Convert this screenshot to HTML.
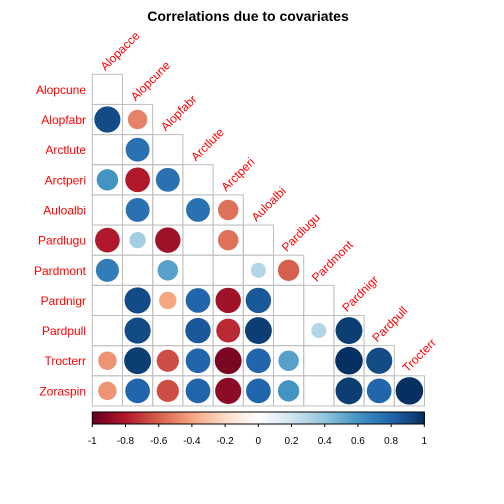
<!DOCTYPE html>
<html><head><meta charset="utf-8"><style>
body{margin:0;background:#fff;}
svg{display:block;font-family:"Liberation Sans",sans-serif;}
</style></head><body>
<svg id="chart" width="504" height="504">
<text x="248" y="21" text-anchor="middle" font-size="14" font-weight="bold">Correlations due to covariates</text>
<g id="grid"></g><g id="marks"></g><g id="labels"></g><g id="legend"></g>
</svg>
<script>
const colLabels=["Alopacce","Alopcune","Alopfabr","Arctlute","Arctperi","Auloalbi","Pardlugu","Pardmont","Pardnigr","Pardpull","Trocterr"];
const rowLabels=["Alopcune","Alopfabr","Arctlute","Arctperi","Auloalbi","Pardlugu","Pardmont","Pardnigr","Pardpull","Trocterr","Zoraspin"];
const corrValues=[
[null],
[0.9,-0.5],
[null,0.75],
[0.6,-0.8,0.75],
[null,0.75,null,0.75,-0.55],
[-0.8,0.35,-0.85,null,-0.55,null],
[0.7,null,0.55,null,null,0.3,-0.6],
[null,0.9,-0.4,0.8,-0.85,0.85,null,null],
[null,0.9,null,0.85,-0.75,0.95,null,0.3,0.95],
[-0.45,0.95,-0.65,0.8,-0.95,0.8,0.55,null,1.0,0.9],
[-0.45,0.8,-0.65,0.8,-0.9,0.8,0.6,null,0.95,0.8,1.0]
];
const legendTicks=[-1,-0.8,-0.6,-0.4,-0.2,0,0.2,0.4,0.6,0.8,1];
const NS="http://www.w3.org/2000/svg";
const X0=92.3,Y0=74.3,CW=30.2,CH=30.15;
const xPos=j=>X0+j*CW, yPos=i=>Y0+i*CH;
const pal=["#67001F","#B2182B","#D6604D","#F4A582","#FDDBC7","#FFFFFF","#D1E5F0","#92C5DE","#4393C3","#2166AC","#053061"];
function hx(h){return[1,3,5].map(k=>parseInt(h.substr(k,2),16));}
function col(v){let t=(v+1)/2*10;let k=Math.min(9,Math.floor(t));let f=t-k;let a=hx(pal[k]),b=hx(pal[k+1]);
return "rgb("+a.map((c,i)=>Math.round(c+(b[i]-c)*f)).join(",")+")";}
function mk(tag,attrs,parent){const e=document.createElementNS(NS,tag);for(const k in attrs)e.setAttribute(k,attrs[k]);parent.appendChild(e);return e;}
const grid=document.getElementById('grid'),marks=document.getElementById('marks'),labels=document.getElementById('labels'),legend=document.getElementById('legend');
for(let i=0;i<rowLabels.length;i++){
  for(let j=0;j<=i;j++){
    const r=mk('rect',{x:xPos(j),y:yPos(i),width:CW,height:CH,fill:'none',stroke:'#bebebe','stroke-width':1},grid);
    
    
    const v=corrValues[i][j];
    if(v!==null&&v!==undefined){
      const c=mk('circle',{cx:xPos(j)+CW/2,cy:yPos(i)+CH/2,r:13.8*Math.sqrt(Math.abs(v)),fill:col(v)},marks);
      
      
    }
  }
  const t=mk('text',{x:86,y:yPos(i)+CH/2+4.5,'text-anchor':'end','font-size':12,fill:'#ff0000'},labels);
  t.textContent=rowLabels[i];
  
  
}
for(let j=0;j<colLabels.length;j++){
  const x=xPos(j)+CW/2-2,y=yPos(j)-3;
  const t=mk('text',{x:x,y:y,'font-size':12,fill:'#ff0000',transform:'rotate(-45 '+x+' '+y+')'},labels);
  t.textContent=colLabels[j];
  
  
}
const LX0=92.3,LX1=424.3,LY=412,LH=12;
const lx=v=>LX0+(v+1)/2*(LX1-LX0);
for(let k=0;k<200;k++){
  const v=-1+k/100;
  mk('rect',{x:lx(v),y:LY,width:(LX1-LX0)/200+0.6,height:LH,fill:col(v+0.005)},legend);
}
const bd=mk('rect',{x:LX0,y:LY,width:LX1-LX0,height:LH,fill:'none',stroke:'#000','stroke-width':1},legend);


legendTicks.forEach(v=>{
  mk('line',{x1:lx(v),x2:lx(v),y1:LY+LH,y2:LY+LH+3,stroke:'#000'},legend);
  const t=mk('text',{x:lx(v),y:444,'text-anchor':'middle','font-size':10},legend);
  t.textContent=String(v);
  
  
});
</script>
</body></html>
